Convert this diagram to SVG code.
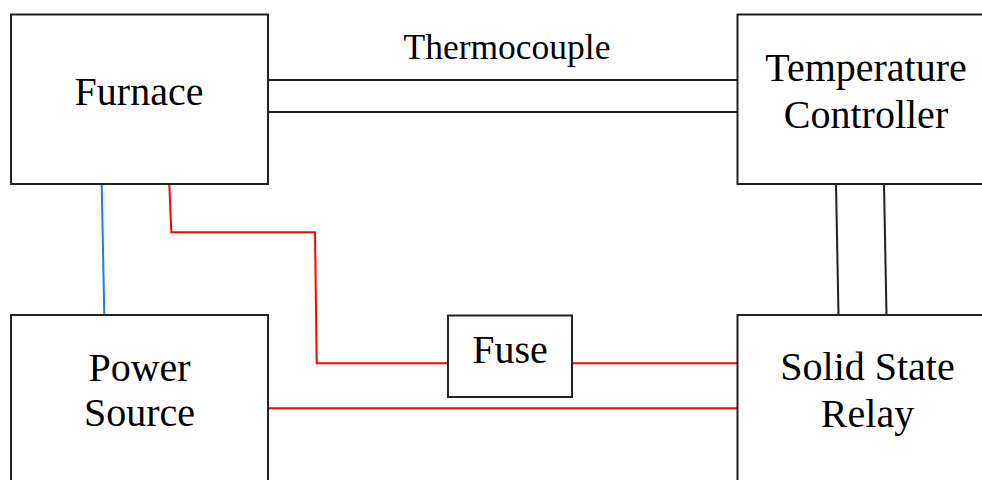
<svg xmlns="http://www.w3.org/2000/svg" width="982" height="480" viewBox="0 0 982 480">
<style>
.box{fill:#fff;stroke:#222;stroke-width:2}
.lbl{font-family:"Liberation Serif","Times New Roman",serif;font-size:40px;fill:#000;text-anchor:middle}
.blk{stroke:#222;stroke-width:2;fill:none}
.red{stroke:#ff0000;stroke-width:2;fill:none}
.blu{stroke:#1f7fd0;stroke-width:2;fill:none}
</style>
<rect width="982" height="480" fill="#fff"/>
<g id="connectors">
<line class="blk" x1="268" y1="80" x2="738" y2="80"/>
<line class="blk" x1="268" y1="112" x2="738" y2="112"/>
<line class="blk" x1="836" y1="184" x2="838.5" y2="315"/>
<line class="blk" x1="884" y1="184" x2="886.5" y2="315"/>
<line class="blu" x1="101.7" y1="184" x2="104.3" y2="315"/>
<polyline class="red" points="169.3,184 171.3,232.3 315,232.3 316.7,363.3 448,363.3"/>
<line class="red" x1="572" y1="363.3" x2="738" y2="363.3"/>
<line class="red" x1="268" y1="408.3" x2="738" y2="408.3"/>
<text x="507" y="59" style="font-family:'Liberation Serif','Times New Roman',serif;font-size:35.5px;text-anchor:middle">Thermocouple</text>
</g>
<g id="furnace">
<rect class="box" x="11" y="14.5" width="257" height="169.5"/>
<text class="lbl" x="139" y="104.5">Furnace</text>
</g>
<g id="temperature-controller">
<rect class="box" x="737.5" y="14.5" width="260" height="169.5"/>
<text class="lbl" x="866" y="81">Temperature</text>
<text class="lbl" x="866" y="127.5">Controller</text>
</g>
<g id="power-source">
<rect class="box" x="11" y="315" width="257" height="180"/>
<text class="lbl" x="139.5" y="380.5">Power</text>
<text class="lbl" x="139.5" y="426">Source</text>
</g>
<g id="fuse">
<rect class="box" x="448" y="315.5" width="124" height="81.5"/>
<text class="lbl" x="510" y="362.5">Fuse</text>
</g>
<g id="solid-state-relay">
<rect class="box" x="737.5" y="315" width="260" height="180"/>
<text class="lbl" x="867.5" y="380">Solid State</text>
<text class="lbl" x="867.5" y="426.5">Relay</text>
</g>
</svg>
